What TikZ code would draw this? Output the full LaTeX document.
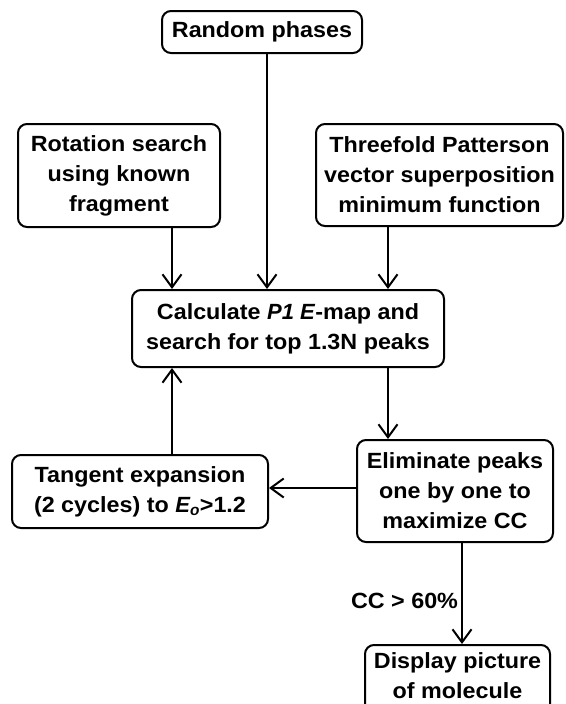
\documentclass[tikz,border=0pt]{standalone}
\usepackage{fontspec}
\setmainfont{Liberation Sans}[BoldFeatures={FakeStretch=1.06}]
\usetikzlibrary{arrows.meta}
\begin{document}
\begin{tikzpicture}[x=1pt,y=-1pt,
  every node/.style={font=\bfseries\fontsize{22}{30}\selectfont},
  stepbox/.style={draw,line width=2pt,rounded corners=9pt,inner sep=0pt,
    align=center,anchor=center},
  flow/.style={line width=2pt,-{Straight Barb[length=13pt,width=19pt,line width=2pt]}}]
\useasboundingbox (0,0) rectangle (565,704);
% process boxes
\node[stepbox,minimum width=200pt,minimum height=42pt] (rand) at (262,32) {Random phases};
\node[stepbox,minimum width=202pt,minimum height=103pt] (rot) at (119,175.5)
  {Rotation search\\using known\\fragment};
\node[stepbox,minimum width=247pt,minimum height=102pt] (three) at (439.5,175)
  {Threefold Patterson\\vector superposition\\minimum function};
\node[stepbox,minimum width=312pt,minimum height=77pt] (calc) at (288,328.5)
  {Calculate \textit{P1 E}-map and\\search for top 1.3N peaks};
\node[stepbox,minimum width=256pt,minimum height=73pt] (tang) at (140,491.5)
  {Tangent expansion\\(2 cycles) to \textit{E\textsubscript{o}}>1.2};
\node[stepbox,minimum width=196pt,minimum height=102pt] (elim) at (455,491)
  {Eliminate peaks\\one by one to\\maximize CC};
% the last box runs on past the lower edge of the page
\node[stepbox,minimum width=185pt,minimum height=70pt,text depth=8pt] (disp) at (457.5,680)
  {Display picture\\of molecule};
% connectors
\draw[flow] (rand.south -| 267,0) -- (calc.north -| 267,0);
\draw[flow] (rot.south -| 172,0) -- (calc.north -| 172,0);
\draw[flow] (three.south -| 388,0) -- (calc.north -| 388,0);
\draw[flow] (calc.south -| 388,0) -- (elim.north -| 388,0);
\draw[flow] (elim.west |- 0,488) -- (tang.east |- 0,488);
\draw[flow] (tang.north -| 172,0) -- (calc.south -| 172,0);
\draw[flow] (elim.south -| 462,0) -- (disp.north -| 462,0)
  node[pos=0.57,anchor=east,inner sep=0pt,xshift=-3pt] (cc) {CC > 60\%};
\end{tikzpicture}
\end{document}
